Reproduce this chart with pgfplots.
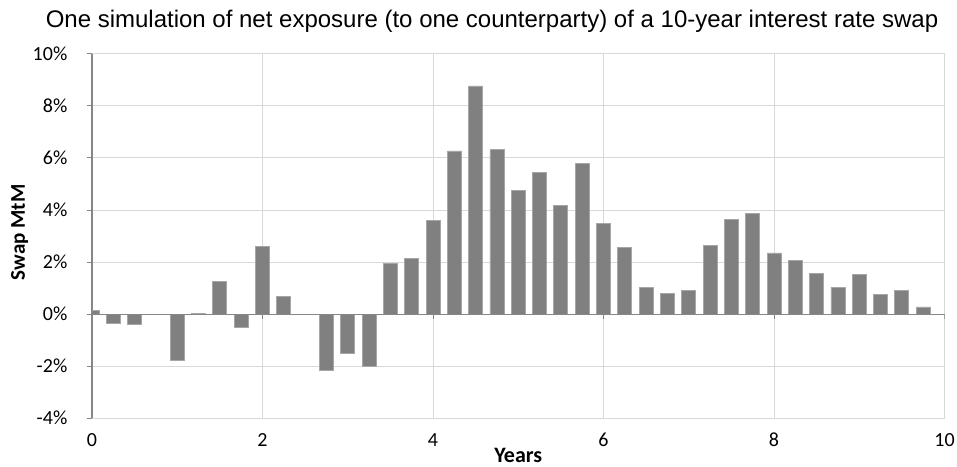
\documentclass[border=0pt]{standalone}
\usepackage{pgfplots}
\pgfplotsset{compat=1.18}
\usepackage{fontspec}
\setmainfont{Carlito}
\newfontfamily\titlefont{Liberation Sans}

\definecolor{bargray}{HTML}{808080}
\definecolor{baredge}{HTML}{A6A6A6}
\definecolor{gridgray}{HTML}{D9D9D9}
\definecolor{axisgray}{HTML}{868686}

\begin{document}
\begin{tikzpicture}
% page frame, relative to the lower left corner of the plot area
\path[use as bounding box] (-92pt,-48pt) rectangle (865pt,418pt);

\node[anchor=base, font=\titlefont\fontsize{24}{28}\selectfont]
  at (400pt,390pt) {One simulation of net exposure (to one counterparty) of a 10-year interest rate swap};

\begin{axis}[
  scale only axis,
  width=852.5pt, height=364pt,
  xmin=0, xmax=10, ymin=-4, ymax=10,
  xtick={0,2,...,10}, ytick={-4,-2,...,10},
  axis lines*=left,
  x axis line style={draw=gridgray, line width=1pt},
  y axis line style={draw=axisgray, line width=1.2pt},
  grid=major,
  grid style={draw=gridgray, line width=1pt},
  tick align=outside,
  major tick length=5pt,
  xtick style={draw=none},
  ytick style={draw=axisgray, line width=1pt},
  /pgf/number format/assume math mode=true,
  tick label style={font=\fontsize{20}{23}\selectfont},
  yticklabel={\pgfmathprintnumber{\tick}\%},
  yticklabel style={anchor=east, inner sep=0pt, xshift=-19.5pt},
  xticklabel style={anchor=center, inner sep=0pt, yshift=-17pt},
  xlabel={Years}, ylabel={Swap MtM},
  xlabel style={font=\bfseries\fontsize{22}{26}\selectfont, at={(axis description cs:0.5,0)}, anchor=center, inner sep=0pt, yshift=-37pt},
  ylabel style={font=\bfseries\fontsize{21}{24}\selectfont, at={(axis description cs:-0.085,0.51)}, anchor=center, inner sep=0pt},
  ybar, bar width=14pt,
]
\addplot[fill=bargray, draw=baredge, line width=0.8pt] coordinates {
  (0,0.12) (0.25,-0.36) (0.5,-0.40) (0.75,0) (1,-1.78) (1.25,0.03) (1.5,1.24) (1.75,-0.51)
  (2,2.60) (2.25,0.69) (2.5,-0.03) (2.75,-2.18) (3,-1.53) (3.25,-2.00) (3.5,1.95) (3.75,2.14)
  (4,3.60) (4.25,6.27) (4.5,8.77) (4.75,6.32) (5,4.76) (5.25,5.46) (5.5,4.17) (5.75,5.79)
  (6,3.47) (6.25,2.55) (6.5,1.01) (6.75,0.79) (7,0.92) (7.25,2.63) (7.5,3.65) (7.75,3.87)
  (8,2.35) (8.25,2.05) (8.5,1.57) (8.75,1.03) (9,1.53) (9.25,0.76) (9.5,0.90) (9.75,0.27)
};
\draw[axisgray, line width=1pt] (axis cs:0,0) -- (axis cs:10,0);
\pgfplotsinvokeforeach{2,4,6,8,10}{
  \draw[axisgray, line width=1pt] (axis cs:#1,0) -- ++(0pt,-5pt);
}
\end{axis}
\end{tikzpicture}
\end{document}
